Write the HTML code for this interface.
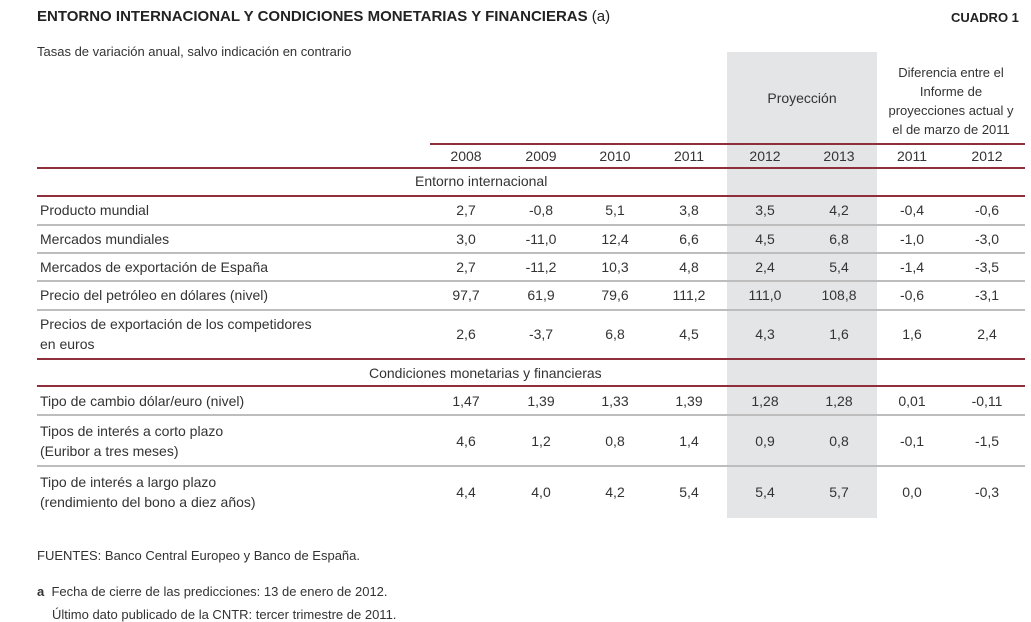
<!DOCTYPE html>
<html><head><meta charset="utf-8"><style>
body{margin:0;width:1031px;height:622px;background:#fff;position:relative;overflow:hidden;font-family:"Liberation Sans",sans-serif;color:#333;}
.a{position:absolute;white-space:nowrap;}
.t{font-size:14px;}
.n{font-size:14px;width:70px;text-align:center;}
.r{position:absolute;height:2px;background:#8e2f3b;}
.g{position:absolute;height:2px;background:#bdbdbd;}
</style></head><body>
<div class="a" style="left:37px;top:8px;font-size:15px;font-weight:bold;color:#222;">ENTORNO INTERNACIONAL Y CONDICIONES MONETARIAS Y FINANCIERAS <span style="font-weight:normal">(a)</span></div>
<div class="a" style="left:951px;top:10px;font-size:13px;font-weight:bold;color:#222;">CUADRO 1</div>
<div class="a" style="left:37px;top:44px;font-size:13px;">Tasas de variación anual, salvo indicación en contrario</div>
<div class="a" style="left:727px;top:52px;width:150px;height:466px;background:#e4e5e7;"></div>
<div class="a t" style="left:727px;top:90px;width:150px;text-align:center;">Proyección</div>
<div class="a" style="left:880px;top:63px;width:142px;text-align:center;font-size:13px;line-height:19px;white-space:normal;">Diferencia entre el<br>Informe de<br>proyecciones actual y<br>el de marzo de 2011</div>
<div class="r" style="left:430px;top:143px;width:595px;"></div>
<div class="r" style="left:37px;top:167px;width:988px;"></div>
<div class="r" style="left:37px;top:195px;width:988px;"></div>
<div class="g" style="left:37px;top:224px;width:988px;"></div>
<div class="g" style="left:37px;top:252px;width:988px;"></div>
<div class="g" style="left:37px;top:280px;width:988px;"></div>
<div class="g" style="left:37px;top:309px;width:988px;"></div>
<div class="r" style="left:37px;top:358px;width:988px;"></div>
<div class="r" style="left:37px;top:385px;width:988px;"></div>
<div class="g" style="left:37px;top:414px;width:988px;"></div>
<div class="g" style="left:37px;top:465px;width:988px;"></div>
<div class="a t" style="left:415px;top:173px;">Entorno internacional</div>
<div class="a t" style="left:369px;top:365px;">Condiciones monetarias y financieras</div>
<div id="tb"></div>
<div class="a" style="left:37px;top:548px;font-size:13px;">FUENTES: Banco Central Europeo y Banco de España.</div>
<div class="a" style="left:37px;top:584px;font-size:13px;"><b>a</b>&nbsp; Fecha de cierre de las predicciones: 13 de enero de 2012.</div>
<div class="a" style="left:52px;top:607px;font-size:13px;">Último dato publicado de la CNTR: tercer trimestre de 2011.</div>
<script>
const headers=["2008","2009","2010","2011","2012","2013","2011","2012"];
const colX=[466,541,615,689,765,839,912,987];
const labels=[["Producto mundial"],["Mercados mundiales"],["Mercados de exportación de España"],["Precio del petróleo en dólares (nivel)"],["Precios de exportación de los competidores","en euros"],["Tipo de cambio dólar/euro  (nivel)"],["Tipos de interés a corto plazo","(Euribor a tres meses)"],["Tipo de interés a largo plazo","(rendimiento del bono a diez años)"]];
const values=[["2,7","-0,8","5,1","3,8","3,5","4,2","-0,4","-0,6"],["3,0","-11,0","12,4","6,6","4,5","6,8","-1,0","-3,0"],["2,7","-11,2","10,3","4,8","2,4","5,4","-1,4","-3,5"],["97,7","61,9","79,6","111,2","111,0","108,8","-0,6","-3,1"],["2,6","-3,7","6,8","4,5","4,3","1,6","1,6","2,4"],["1,47","1,39","1,33","1,39","1,28","1,28","0,01","-0,11"],["4,6","1,2","0,8","1,4","0,9","0,8","-0,1","-1,5"],["4,4","4,0","4,2","5,4","5,4","5,7","0,0","-0,3"]];
const rowY=[211,240,268,296,335,402,442,493];
const tb=document.getElementById('tb');
function mk(txt,x,y,cls,w){const d=document.createElement('div');d.className='a '+cls;d.textContent=txt;d.style.left=(x-(w||0)/2)+'px';d.style.top=(y-9)+'px';tb.appendChild(d);return d;}
headers.forEach((h,i)=>{const d=mk(h,colX[i],157,'n',70);

});
labels.forEach((l,r)=>{const ys=l.length==1?[rowY[r]]:[rowY[r]-10,rowY[r]+10];
l.forEach((t,k)=>{const d=mk(t,40,ys[k],'t');

});
values[r].forEach((v,i)=>{const d=mk(v,colX[i],rowY[r],'n',70);

});});
</script>
</body></html>
